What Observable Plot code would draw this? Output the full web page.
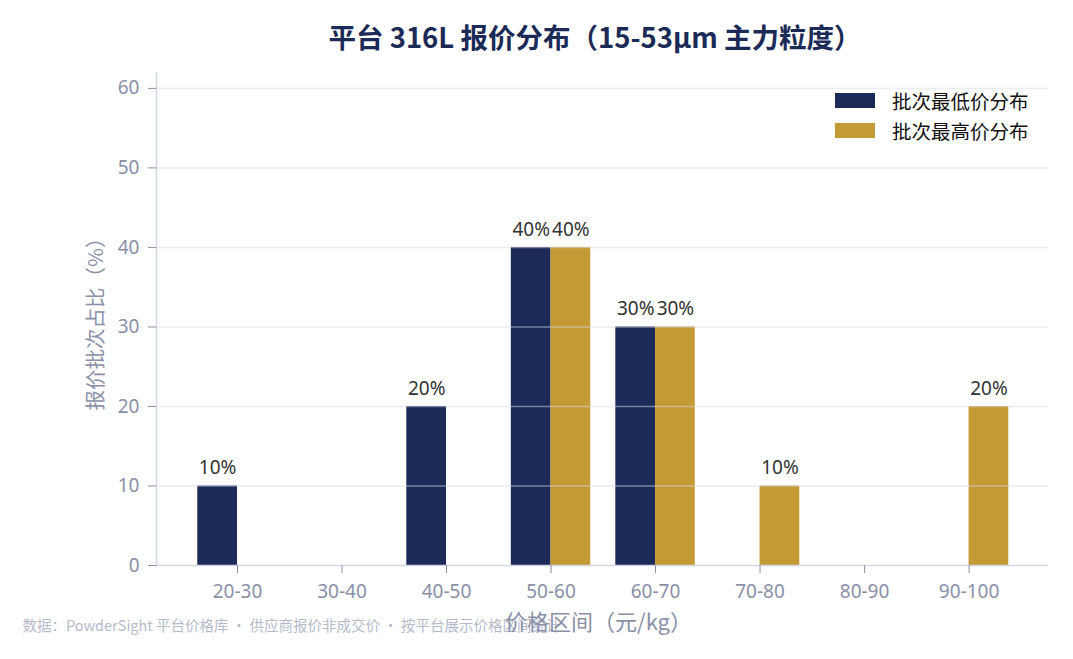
<!DOCTYPE html>
<html><head><meta charset="utf-8">
<script src="https://cdn.jsdelivr.net/npm/d3@7"></script>
<script src="https://cdn.jsdelivr.net/npm/@observablehq/plot@0.6"></script>
<style>
html,body{margin:0;padding:0;background:#fff;}
#wrap{position:relative;width:1073px;height:659px;font-family:"Noto Sans","Noto Sans CJK SC",sans-serif;}
#title{position:absolute;left:0;width:1190px;top:16px;text-align:center;font-family:"Noto Sans CJK SC",sans-serif;font-weight:700;font-size:27.5px;color:#1b2a56;}
.leg{position:absolute;left:835px;font-family:"Noto Sans CJK SC",sans-serif;font-size:19.5px;color:#111;}
.sw{position:absolute;left:0;top:0;width:40px;height:15px;}
.lt{position:absolute;left:57px;top:-7px;white-space:nowrap;}
</style></head>
<body><div id="wrap"></div>
<script>
const categories = ["20-30","30-40","40-50","50-60","60-70","70-80","80-90","90-100"];
const lowShare = [10,0,20,40,30,0,0,0];
const highShare = [0,0,0,40,30,10,0,20];
const seriesNames = ["批次最低价分布","批次最高价分布"];
const colors = ["#1b2a56","#c39a33"];
const titleText = "平台 316L 报价分布（15-53μm 主力粒度）";
const yLabel = "报价批次占比（%）";
const xLabel = "价格区间（元/kg）";
const footer = "数据：PowderSight 平台价格库 · 供应商报价非成交价 · 按平台展示价格区间统计";

const hw = 0.38;
const rows = [];
categories.forEach((c,i)=>{
  rows.push({i, s:0, v:lowShare[i]});
  rows.push({i, s:1, v:highShare[i]});
});
const shown = rows.filter(d=>d.v>0);

const plot = Plot.plot({
  width:1073, height:659,
  marginLeft:156, marginRight:25, marginTop:72, marginBottom:94,
  style:{fontFamily:'"Noto Sans","Noto Sans CJK SC",sans-serif', background:"transparent"},
  x:{type:"linear", domain:[-0.775,7.76], ticks:d3.range(categories.length), tickFormat:d=>categories[d], label:null},
  y:{domain:[0,62], ticks:[0,10,20,30,40,50,60], label:null},
  marks:[
    Plot.text([footer],{frameAnchor:"bottom-left", dx:-134, dy:65, textAnchor:"start", fill:"#b6bbcb", fontSize:14.5, fontFamily:'"Noto Sans CJK SC",sans-serif'}),
    Plot.rectY(shown,{x1:d=>d.s===0?d.i-hw:d.i, x2:d=>d.s===0?d.i:d.i+hw, y1:0, y2:"v", fill:d=>colors[d.s]}),
    Plot.gridY({ticks:[10,20,30,40,50,60], stroke:"#d8dbe8", strokeOpacity:0.5, strokeWidth:1.5}),
    Plot.ruleX([-0.775],{stroke:"#d3d6e4", strokeWidth:1.5}),
    Plot.ruleY([0],{stroke:"#d3d6e4", strokeWidth:1.5}),
    Plot.axisY({ticks:[0,10,20,30,40,50,60], tickSize:8, tickPadding:9, fontSize:19, color:"#8a90a8", stroke:"#8a90a8", label:null}),
    Plot.axisX({ticks:d3.range(categories.length), tickFormat:d=>categories[d], tickSize:8, tickPadding:11, fontSize:19, color:"#8a90a8", stroke:"#8a90a8", label:null}),
    Plot.text(shown,{x:d=>d.s===0?d.i-hw/2:d.i+hw/2, y:"v", text:d=>d.v+"%", dy:-18, fill:"#333", fontSize:19, textAnchor:"middle", lineAnchor:"middle"}),
    Plot.text([yLabel],{frameAnchor:"left", dx:-60, rotate:-90, textAnchor:"middle", fill:"#8a90a8", fontSize:20.5, fontFamily:'"Noto Sans CJK SC",sans-serif'}),
    Plot.text([xLabel],{frameAnchor:"bottom", dx:-4, dy:64, fill:"#8a90a8", fontSize:22, fontFamily:'"Noto Sans CJK SC",sans-serif'})
  ]
});
const wrap = document.getElementById("wrap");
wrap.appendChild(plot);
plot.style.position="absolute"; plot.style.left="0"; plot.style.top="0";
const t = document.createElement("div"); t.id="title"; t.textContent=titleText; wrap.appendChild(t);
seriesNames.forEach((n,k)=>{
  const g=document.createElement("div"); g.className="leg"; g.style.top=(93+k*30)+"px";
  const s=document.createElement("div"); s.className="sw"; s.style.background=colors[k];
  const l=document.createElement("div"); l.className="lt"; l.textContent=n;
  g.appendChild(s); g.appendChild(l); wrap.appendChild(g);
});
</script></body></html>
